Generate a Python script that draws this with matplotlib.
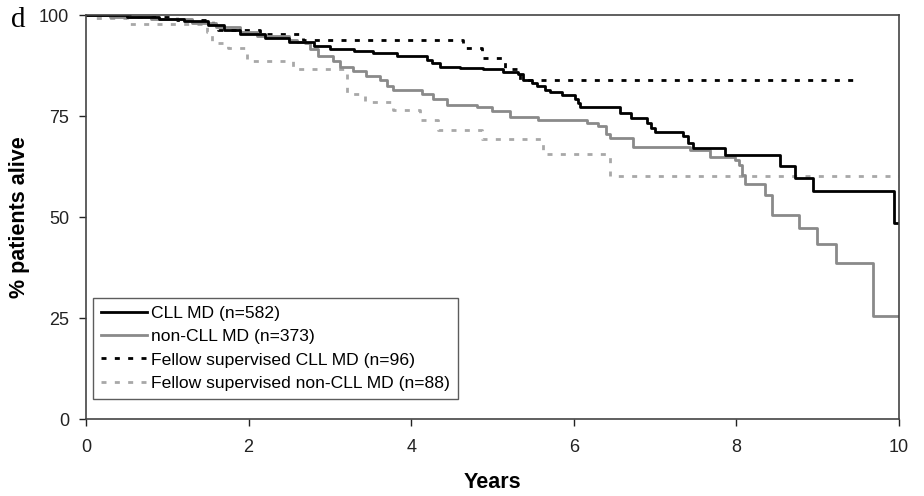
import numpy as np
import matplotlib.pyplot as plt

plt.rcParams['font.family'] = ['Liberation Sans', 'DejaVu Sans']

# Kaplan-Meier curves: (years, % alive after the step)
cll_t = [0, 0.5, 0.9, 1.2, 1.5, 1.7, 1.9, 2.2, 2.5, 2.8, 3.0, 3.3, 3.53, 3.82, 4.19, 4.25,
         4.35, 4.6, 4.88, 5.13, 5.31, 5.38, 5.48, 5.55, 5.65, 5.71, 5.85, 6.01, 6.05, 6.08,
         6.57, 6.70, 6.90, 6.95, 7.0, 7.34, 7.40, 7.47, 7.86, 8.54, 8.72, 8.94, 9.94, 10.0]
cll_s = [100, 99.5, 99, 98.5, 97.5, 96.5, 95.5, 94.5, 93.5, 92.5, 91.6, 91.2, 90.8, 89.9, 89.0, 88.3,
         87.3, 87.0, 86.6, 85.9, 85.4, 84.1, 83.2, 82.4, 81.5, 80.9, 80.4, 79.2, 78.2, 77.2,
         75.9, 74.7, 73.4, 72.2, 71.2, 70.0, 68.5, 67.2, 65.5, 62.6, 59.8, 56.4, 48.6, 48.6]

noncll_t = [0, 0.3, 0.8, 1.3, 1.6, 1.9, 2.1, 2.5, 2.6, 2.7, 2.76, 2.85, 3.04, 3.12, 3.29, 3.45,
            3.62, 3.7, 3.78, 4.13, 4.27, 4.44, 4.81, 5.0, 5.21, 5.56, 6.16, 6.3, 6.4, 6.45,
            6.73, 7.43, 7.68, 7.98, 8.03, 8.07, 8.1, 8.35, 8.44, 8.77, 8.99, 9.22, 9.68, 10.0]
noncll_s = [100, 99.5, 99, 98, 97, 96, 95, 94, 93.5, 93.2, 91.6, 89.9, 88.6, 87.1, 86.1, 85.1,
            84.1, 82.6, 81.4, 80.6, 79.2, 77.9, 77.2, 76.2, 74.9, 74.2, 73.4, 72.5, 70.5, 69.7,
            67.5, 66.7, 65.0, 64.3, 63.0, 60.5, 58.3, 55.6, 50.6, 47.4, 43.4, 38.7, 25.6, 25.6]

fcll_t = [0, 0.6, 1.12, 1.56, 1.62, 2.14, 2.67, 4.64, 4.87, 5.15, 5.34, 9.46]
fcll_s = [100, 99.5, 98.8, 97.8, 96.5, 95.3, 93.9, 91.8, 89.5, 86.6, 83.9, 83.9]

fnon_t = [0, 0.1, 0.5, 1.49, 1.55, 1.75, 1.98, 2.55, 3.21, 3.43, 3.78, 4.11, 4.33, 4.87,
          5.62, 6.45, 10.0]
fnon_s = [100, 99.3, 97.8, 95.8, 93.2, 91.8, 88.6, 86.7, 80.6, 78.5, 76.5, 74.2, 71.7, 69.3,
          65.6, 60.3, 60.3]

labels = ['CLL MD (n=582)', 'non-CLL MD (n=373)',
          'Fellow supervised CLL MD (n=96)', 'Fellow supervised non-CLL MD (n=88)']

fig = plt.figure(figsize=(9.24, 4.96), dpi=100)
ax = fig.add_axes([0.093, 0.155, 0.880, 0.814])

ax.step(fcll_t, fcll_s, where='post', color='black', lw=2, ls=(0, (1.8, 3)), label=labels[2])
ax.step(fnon_t, fnon_s, where='post', color='#a8a8a8', lw=2, ls=(0, (1.8, 3)), label=labels[3])
ax.step(noncll_t, noncll_s, where='post', color='#8a8a8a', lw=2, label=labels[1])
ax.step(cll_t, cll_s, where='post', color='black', lw=2, label=labels[0])

ax.set_xlim(0, 10)
ax.set_ylim(0, 100)
ax.set_xticks([0, 2, 4, 6, 8, 10])
ax.set_yticks([0, 25, 50, 75, 100])
ax.tick_params(direction='out', length=5, width=1, labelsize=13, colors='#222222')
ax.tick_params(axis='x', pad=9)
ax.tick_params(axis='y', pad=7)
for s in ax.spines.values():
    s.set_color('#444444')
    s.set_linewidth(1.2)

ax.set_xlabel('Years', fontsize=15.5, fontweight='bold', labelpad=12)
ax.set_ylabel('% patients alive', fontsize=15.5, fontweight='bold')
ax.yaxis.set_label_coords(-0.069, 0.5)

h, l = ax.get_legend_handles_labels()
order = [3, 2, 0, 1]
leg = ax.legend([h[i] for i in order], [l[i] for i in order], loc='lower left',
                bbox_to_anchor=(0.009, 0.05), fontsize=12.6, frameon=True, fancybox=False,
                handlelength=2.6, handletextpad=0.25, labelspacing=0.47, borderpad=0.45,
                borderaxespad=0)
leg.get_frame().set_edgecolor('#333333')
leg.get_frame().set_linewidth(1.0)

fig.text(0.012, 0.945, 'd', fontsize=21, family='Liberation Serif')

fig.savefig('out.png', dpi=100)
